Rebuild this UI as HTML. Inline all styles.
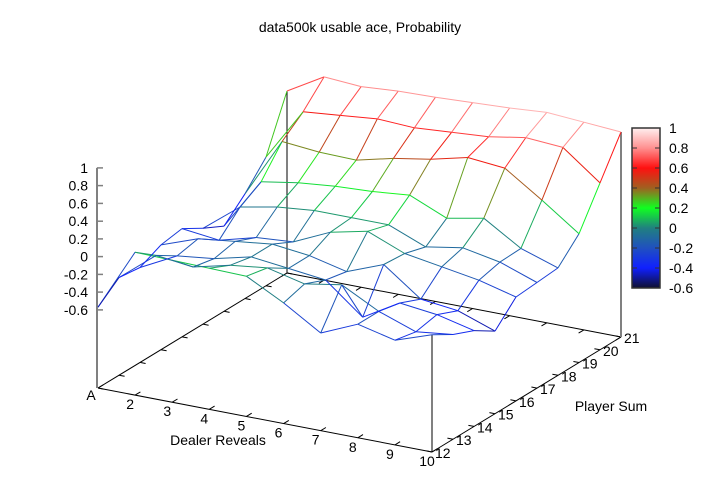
<!DOCTYPE html>
<html><head><meta charset="utf-8"><style>
html,body{margin:0;padding:0;background:#fff}
svg{display:block;font-family:"Liberation Sans",sans-serif;font-size:14px}
</style></head><body>
<svg id="chart" width="720" height="504" viewBox="0 0 720 504" xmlns="http://www.w3.org/2000/svg">
<rect x="0" y="0" width="720" height="504" fill="#fff"/>
<text x="360" y="32" text-anchor="middle">data500k usable ace, Probability</text>
<g id="base"></g>
<g id="surf"></g>
<g id="cb"></g>
<text x="218" y="445" text-anchor="middle">Dealer Reveals</text>
<text x="611" y="411" text-anchor="middle">Player Sum</text>
</svg>
<script>
const dealerLabels = ['A','2','3','4','5','6','7','8','9','10'];
const playerLabels = ['12','13','14','15','16','17','18','19','20','21'];
const zTicks = [1,0.8,0.6,0.4,0.2,0,-0.2,-0.4,-0.6];
const cbTicks = ['1','0.8','0.6','0.4','0.2','0','-0.2','-0.4','-0.6'];
const row12 = [-0.57,0.13,0.12,0.11,0.10,-0.12,-0.38,-0.20,-0.30,-0.16];
const row13 = [-0.38,-0.05,-0.10,0.00,0.05,-0.05,0.02,-0.20,-0.35,-0.30];
const row14 = [-0.41,-0.20,-0.15,-0.05,-0.10,-0.15,-0.49,-0.25,-0.30,-0.40];
const row15 = [-0.30,-0.15,-0.10,-0.05,-0.10,-0.20,-0.04,-0.35,-0.40,-0.55];
const row16 = [-0.26,-0.31,-0.20,-0.17,0.02,0.11,-0.06,-0.13,-0.20,-0.31];
const row17 = [-0.40,-0.08,0.00,0.04,0.04,0.04,-0.13,-0.06,-0.14,-0.29];
const row18 = [-0.52,0.06,0.13,0.17,0.19,0.23,0.05,0.13,-0.13,-0.27];
const row19 = [-0.30,0.37,0.33,0.32,0.42,0.49,0.59,0.55,0.27,-0.03];
const row20 = [-0.03,0.56,0.60,0.64,0.62,0.65,0.68,0.75,0.72,0.40];
const row21 = [0.57,0.81,0.78,0.81,0.82,0.84,0.86,0.89,0.86,0.83];
const rows = [row12,row13,row14,row15,row16,row17,row18,row19,row20,row21];

const NS='http://www.w3.org/2000/svg';
const ZBASE=-1.48, ZS=88.75;
const UX=37.11, UY=7.11, VX=21.0, VY=-12.78, OX=98, OY=388;
function px(d,p,z){ return [OX+d*UX+p*VX, OY+d*UY+p*VY-(z-ZBASE)*ZS]; }
function zy(z){ return OY-(z-ZBASE)*ZS; }
const stops=[[-0.6,[16,16,48]],[-0.4,[16,32,255]],[-0.2,[32,80,192]],[0,[32,128,128]],[0.2,[16,255,32]],[0.4,[160,96,32]],[0.6,[255,16,16]],[0.8,[255,144,144]],[1,[255,240,240]]];
function col(z){
  z=Math.max(-0.6,Math.min(1,z));
  for(let i=0;i<stops.length-1;i++){
    const a=stops[i],b=stops[i+1];
    if(z<=b[0]){const t=(z-a[0])/(b[0]-a[0]);
      const c=a[1].map((v,k)=>Math.round(v+(b[1][k]-v)*t));
      return 'rgb('+c.join(',')+')';}
  }
  return 'rgb(255,240,240)';
}
function line(g,x1,y1,x2,y2,stroke,w,name){
  const l=document.createElementNS(NS,'line');
  l.setAttribute('x1',x1.toFixed(1));l.setAttribute('y1',y1.toFixed(1));
  l.setAttribute('x2',x2.toFixed(1));l.setAttribute('y2',y2.toFixed(1));
  l.setAttribute('stroke',stroke);l.setAttribute('stroke-width',w);
  
  
  g.appendChild(l); return l;
}
function text(g,x,y,s,anchor,name){
  const t=document.createElementNS(NS,'text');
  t.setAttribute('x',x);t.setAttribute('y',y);t.setAttribute('text-anchor',anchor);
  t.textContent=s;
  
  
  g.appendChild(t); return t;
}
const base=document.getElementById('base');
const nd=dealerLabels.length-1, np=playerLabels.length-1;
const c00=px(0,0,ZBASE), c10=px(nd,0,ZBASE), c11=px(nd,np,ZBASE), c01=px(0,np,ZBASE);
line(base,c00[0],c00[1],c10[0],c10[1],'#000',1,'base-front-edge');
line(base,c10[0],c10[1],c11[0],c11[1],'#000',1,'base-right-edge');
line(base,c00[0],c00[1],c01[0],c01[1],'#000',1,'base-left-edge');
line(base,c01[0],c01[1],c11[0],c11[1],'#000',1,'base-back-edge');
dealerLabels.forEach((lab,i)=>{
  const a=px(i,0,ZBASE), b=px(i,np,ZBASE);
  line(base,a[0],a[1],a[0]+VX*0.25,a[1]+VY*0.25,'#000',1,'x-tick');
  line(base,b[0],b[1],b[0]-VX*0.25,b[1]-VY*0.25,'#000',1,'x-tick-mirror');
  text(base,a[0]-6+(i===0?-1:1),a[1]+14-(i===0?2:0),lab,'middle','x-tick-label');
});
playerLabels.forEach((lab,j)=>{
  const a=px(nd,j,ZBASE), b=px(0,j,ZBASE);
  line(base,a[0],a[1],a[0]-UX*0.15,a[1]-UY*0.15,'#000',1,'y-tick');
  line(base,b[0],b[1],b[0]+UX*0.15,b[1]+UY*0.15,'#000',1,'y-tick-mirror');
  text(base,a[0]+3,a[1]+6,lab,'start','y-tick-label');
});
line(base,97,zy(1),97,OY,'#808080',2,'z-axis-line');
zTicks.forEach((z,i)=>{
  line(base,97,zy(z),103,zy(z),'#808080',1.5,'z-tick');
  text(base,88,zy(z)+5,cbTicks[i],'end','z-tick-label');
});
const surf=document.getElementById('surf');
const pBack=px(0,np,rows[np][0]); line(surf,c01[0],c01[1],pBack[0],pBack[1],'#000',1,'corner-back');
const pFront=px(nd,0,rows[0][nd]); line(surf,c10[0],c10[1],pFront[0],pFront[1],'#000',1,'corner-front');
const pRight=px(nd,np,rows[np][nd]); line(surf,c11[0],c11[1],pRight[0],pRight[1],'#808080',2,'corner-right');
for(let j=0;j<rows.length;j++){
  for(let i=0;i<rows[j].length;i++){
    const z=rows[j][i], a=px(i,j,z);
    if(i+1<rows[j].length){const z2=rows[j][i+1],b=px(i+1,j,z2);
      line(surf,a[0],a[1],b[0],b[1],col((z+z2)/2),1,'mesh-row-segment');}
    if(j+1<rows.length){const z2=rows[j+1][i],b=px(i,j+1,z2);
      line(surf,a[0],a[1],b[0],b[1],col((z+z2)/2),1,'mesh-col-segment');}
  }
}
const cb=document.getElementById('cb');
const CBX=632,CBW=28,CBT=128,CBB=288;
const defs=document.createElementNS(NS,'defs');
const lg=document.createElementNS(NS,'linearGradient');
lg.setAttribute('id','pal');lg.setAttribute('x1','0');lg.setAttribute('y1','1');lg.setAttribute('x2','0');lg.setAttribute('y2','0');
stops.forEach(s=>{const st=document.createElementNS(NS,'stop');
  st.setAttribute('offset',((s[0]+0.6)/1.6).toFixed(4));st.setAttribute('stop-color','rgb('+s[1].join(',')+')');lg.appendChild(st);});
defs.appendChild(lg);cb.appendChild(defs);
const r=document.createElementNS(NS,'rect');
r.setAttribute('x',CBX);r.setAttribute('y',CBT);r.setAttribute('width',CBW);r.setAttribute('height',CBB-CBT);
r.setAttribute('fill','url(#pal)');r.setAttribute('stroke','#333');r.setAttribute('stroke-width','1.5');


cb.appendChild(r);
zTicks.forEach((z,i)=>{
  const y=CBT+(1-z)/1.6*(CBB-CBT);
  line(cb,CBX,y,CBX+5,y,'#333',1,'cb-tick');
  line(cb,CBX+CBW-5,y,CBX+CBW,y,'#333',1,'cb-tick');
  text(cb,669,y+5,cbTicks[i],'start','cb-tick-label');
});
</script>
</body></html>
